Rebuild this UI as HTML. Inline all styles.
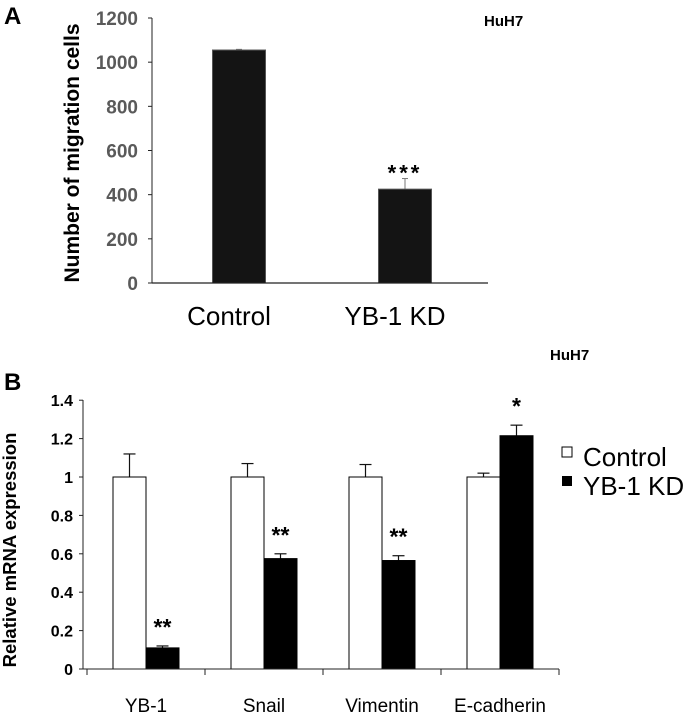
<!DOCTYPE html>
<html><head><meta charset="utf-8"><style>
body{margin:0;background:#fff;}
svg{display:block;font-family:"Liberation Sans",Arial,sans-serif;}
</style></head><body>
<svg width="692" height="718" viewBox="0 0 692 718">
<g id="pa"></g>
<g id="pb"></g>
</svg>
<script>
// Panel A data
const aCategories = ["Control", "YB-1 KD"];
const aValues = [1055, 425];
const aErrors = [3, 48];
const aSig = ["", "***"];
const aTicks = [0, 200, 400, 600, 800, 1000, 1200];
// Panel B data
const bCategories = ["YB-1", "Snail", "Vimentin", "E-cadherin"];
const bControl = [1, 1, 1, 1];
const bControlErr = [0.12, 0.07, 0.065, 0.02];
const bKD = [0.11, 0.575, 0.565, 1.215];
const bKDErr = [0.01, 0.025, 0.025, 0.055];
const bSig = ["**", "**", "**", "*"];
const bTicks = [0, 0.2, 0.4, 0.6, 0.8, 1, 1.2, 1.4];
const bTickLabels = ["0", "0.2", "0.4", "0.6", "0.8", "1", "1.2", "1.4"];

const NS = "http://www.w3.org/2000/svg";
function mk(parent, tag, attrs, text) {
  const e = document.createElementNS(NS, tag);
  for (const k in attrs) e.setAttribute(k, attrs[k]);
  if (text !== undefined) e.textContent = text;
  parent.appendChild(e);
  return e;
}
let el;
// ---------- Panel A ----------
const pa = document.getElementById("pa");
const ayA = v => 283 - v / 1200 * 265;
const axA = i => 239 + i * 166;
el = mk(pa, "text", {x: 4, y: 24, "font-size": 24, "font-weight": "bold"}, "A");


el = mk(pa, "text", {x: 484, y: 26, "font-size": 15, "font-weight": "bold"}, "HuH7");


el = mk(pa, "text", {x: 0, y: 0, "font-size": 21, "font-weight": "bold", "text-anchor": "middle", transform: "translate(79,153) rotate(-90)"}, "Number of migration cells");


aTicks.forEach(t => {
  el = mk(pa, "text", {x: 138, y: ayA(t) + 7, "font-size": 19, "font-weight": "bold", fill: "#5a5a5a", "text-anchor": "end"}, String(t));
  
  
  el = mk(pa, "line", {x1: 148, x2: 152, y1: ayA(t), y2: ayA(t), stroke: "#222", "stroke-width": 1});
  
  
});
aCategories.forEach((c, i) => {
  const cx = axA(i), w = 53;
  el = mk(pa, "line", {x1: cx, x2: cx, y1: ayA(aValues[i]), y2: ayA(aValues[i] + aErrors[i]), stroke: "#777", "stroke-width": 1});
  
  
  el = mk(pa, "line", {x1: cx - 3, x2: cx + 3, y1: ayA(aValues[i] + aErrors[i]), y2: ayA(aValues[i] + aErrors[i]), stroke: "#777", "stroke-width": 1});
  
  
  el = mk(pa, "rect", {x: cx - w / 2, y: ayA(aValues[i]), width: w, height: ayA(0) - ayA(aValues[i]), fill: "#141414", stroke: "#555", "stroke-width": 1});
  
  
  el = mk(pa, "text", {x: cx - 10, y: 325, "font-size": 26, "text-anchor": "middle"}, c);
  
  
  if (aSig[i]) {
    el = mk(pa, "text", {x: cx, y: ayA(aValues[i] + aErrors[i]) + 2, "font-size": 22, "font-weight": "bold", "text-anchor": "middle", "letter-spacing": 3}, aSig[i]);
    
    
  }
});
el = mk(pa, "line", {x1: 152, x2: 152, y1: 18, y2: 283, stroke: "#222", "stroke-width": 1});


el = mk(pa, "line", {x1: 152, x2: 488, y1: 283, y2: 283, stroke: "#222", "stroke-width": 1.2});



// ---------- Panel B ----------
const pb = document.getElementById("pb");
const ayB = v => 669 - v * 192;
const axB = i => 87 + i * 118;
el = mk(pb, "text", {x: 4, y: 390, "font-size": 24, "font-weight": "bold"}, "B");


el = mk(pb, "text", {x: 550, y: 360, "font-size": 15, "font-weight": "bold"}, "HuH7");


el = mk(pb, "text", {x: 0, y: 0, "font-size": 18.5, "font-weight": "bold", "text-anchor": "middle", transform: "translate(16,550) rotate(-90)"}, "Relative mRNA expression");


bTicks.forEach((t, i) => {
  el = mk(pb, "text", {x: 73, y: ayB(t) + 6, "font-size": 16, "font-weight": "bold", "text-anchor": "end"}, bTickLabels[i]);
  
  
  el = mk(pb, "line", {x1: 79, x2: 83, y1: ayB(t), y2: ayB(t), stroke: "#222", "stroke-width": 1});
  
  
});
for (let i = 0; i <= bCategories.length; i++) {
  el = mk(pb, "line", {x1: axB(i), x2: axB(i), y1: 669, y2: 675, stroke: "#222", "stroke-width": 1});
  
  
}
bCategories.forEach((c, i) => {
  const x0 = axB(i) + 26, w = 33;
  const series = [[bControl[i], bControlErr[i], "#fff", x0], [bKD[i], bKDErr[i], "#000", x0 + w]];
  series.forEach((s, j) => {
    const cx = s[3] + w / 2;
    el = mk(pb, "line", {x1: cx, x2: cx, y1: ayB(s[0]), y2: ayB(s[0] + s[1]), stroke: "#111", "stroke-width": 1.2});
    
    
    el = mk(pb, "line", {x1: cx - 6, x2: cx + 6, y1: ayB(s[0] + s[1]), y2: ayB(s[0] + s[1]), stroke: "#111", "stroke-width": 1.2});
    
    
    el = mk(pb, "rect", {x: s[3], y: ayB(s[0]), width: w, height: ayB(0) - ayB(s[0]), fill: s[2], stroke: "#000", "stroke-width": 1});
    
    
  });
  el = mk(pb, "text", {x: x0 + w * 1.5, y: ayB(bKD[i] + bKDErr[i]) - 11, "font-size": 23, "font-weight": "bold", "text-anchor": "middle"}, bSig[i]);
  
  
  el = mk(pb, "text", {x: axB(i) + 59, y: 712, "font-size": 19, "text-anchor": "middle"}, c);
  
  
});
el = mk(pb, "line", {x1: 83, x2: 83, y1: 400, y2: 669, stroke: "#222", "stroke-width": 1});


el = mk(pb, "line", {x1: 79, x2: 559, y1: 669, y2: 669, stroke: "#222", "stroke-width": 1});


// legend
el = mk(pb, "rect", {x: 562, y: 447, width: 10, height: 10, fill: "#fff", stroke: "#000", "stroke-width": 1});


el = mk(pb, "text", {x: 583, y: 466, "font-size": 26}, "Control");


el = mk(pb, "rect", {x: 562, y: 476, width: 10, height: 10, fill: "#000"});


el = mk(pb, "text", {x: 583, y: 495, "font-size": 26}, "YB-1 KD");


</script>
</body></html>
